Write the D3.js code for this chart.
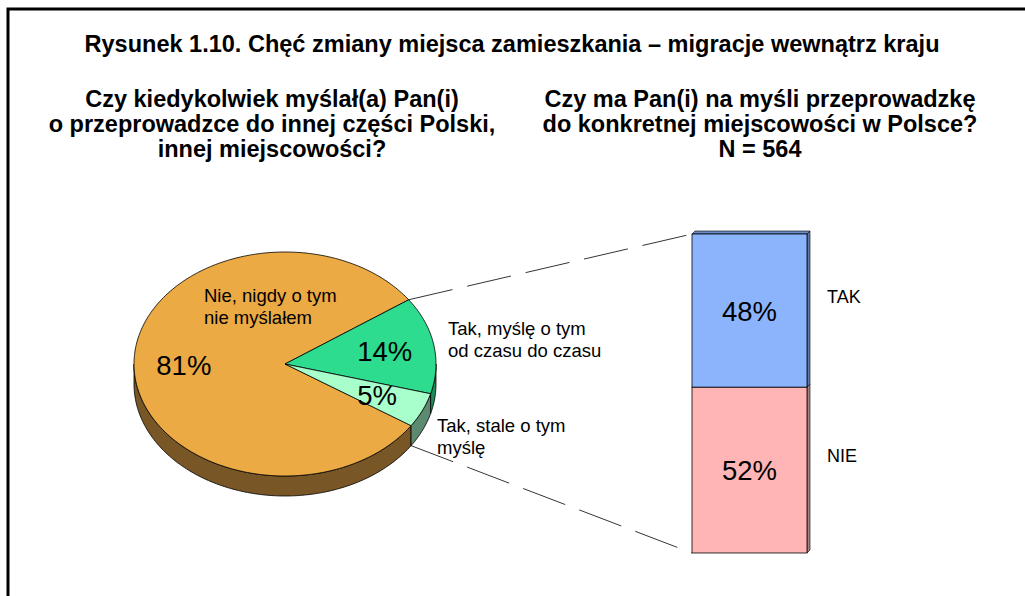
<!DOCTYPE html>
<html>
<head>
<meta charset="utf-8">
<script src="https://cdn.jsdelivr.net/npm/d3@7"></script>
<style>
  body { margin: 0; background: #fff; }
  svg { display: block; }
  text { font-family: "Liberation Sans", Arial, sans-serif; fill: #000; }
</style>
</head>
<body>
<svg id="chart" width="1025" height="596"></svg>
<script>
// ---- data ----
const title = "Rysunek 1.10. Chęć zmiany miejsca zamieszkania – migracje wewnątrz kraju";
const leftQuestion = ["Czy kiedykolwiek myślał(a) Pan(i)", "o przeprowadzce do innej części Polski,", "innej miejscowości?"];
const rightQuestion = ["Czy ma Pan(i) na myśli przeprowadzkę", "do konkretnej miejscowości w Polsce?", "N = 564"];

const pieCategories = [["Nie, nigdy o tym", "nie myślałem"], ["Tak, myślę o tym", "od czasu do czasu"], ["Tak, stale o tym", "myślę"]];
const pieValues = [81, 14, 5];

const barCategories = ["NIE", "TAK"];   // bottom to top
const barValues = [52, 48];

// ---- styles / layout ----
const pieTop = ["#ebaa44", "#2ddc8e", "#a8ffcc"];
const pieSide = ["#785626", "#1f8a5a", "#5c8a70"];
const barFill = ["#ffb5b5", "#8cb4fc"];
const barSideFill = ["#a88080", "#5a7aae"];
const catOffsets = [[-81, -62], [163, -29], [152, 68]];  // label position relative to pie centre

const svg = d3.select("#chart");

// frame
svg.append("path")
    .attr("d", "M8,600V9H1030")
    .attr("fill", "none")
    .attr("stroke", "#000")
    .attr("stroke-width", 3);

// titles
svg.append("text")
    .attr("x", 512).attr("y", 52)
    .attr("text-anchor", "middle")
    .style("font-family", "'Liberation Sans Narrow', 'Arial Narrow', 'Liberation Sans', sans-serif")
    .style("font-weight", "bold")
    .style("font-size", "23px")
    .attr("textLength", 855)
    .attr("lengthAdjust", "spacingAndGlyphs")
    .text(title);

function question(lines, cx) {
    const t = svg.append("text")
        .attr("text-anchor", "middle")
        .style("font-weight", "bold")
        .style("font-size", "23.5px");
    lines.forEach((l, i) => {
        t.append("tspan").attr("x", cx).attr("y", 107 + i * 25).text(l);
    });
}
question(leftQuestion, 272);
question(rightQuestion, 760);

// ---- 3D pie ----
const cx = 285, cy = 364, rx = 151, ry = 112, depth = 20;
const startAngle = 123.4 * Math.PI / 180;

const arcs = d3.pie().sort(null)
    .startAngle(startAngle)
    .endAngle(startAngle + 2 * Math.PI)(pieValues);

const pt = (a, f = 1, dy = 0) => [cx + rx * f * Math.sin(a), cy - ry * f * Math.cos(a) + dy];
const sample = (a0, a1, dy = 0) => {
    const n = Math.max(2, Math.ceil(Math.abs(a1 - a0) / 0.02));
    return d3.range(n + 1).map(i => pt(a0 + (a1 - a0) * i / n, 1, dy));
};
const line = d3.line();

// side walls (front half only)
const gSide = svg.append("g");
arcs.forEach((d, i) => {
    for (let k = 0; k < 2; k++) {
        const v0 = Math.PI / 2 + k * 2 * Math.PI, v1 = 3 * Math.PI / 2 + k * 2 * Math.PI;
        const s = Math.max(d.startAngle, v0), e = Math.min(d.endAngle, v1);
        if (e <= s) continue;
        const pts = sample(s, e).concat(sample(e, s, depth));
        gSide.append("path")
            .attr("d", line(pts) + "Z")
            .attr("fill", pieSide[i])
            .attr("stroke", "#000")
            .attr("stroke-width", 0.8)
            .attr("stroke-linejoin", "round");
    }
});

// top surfaces
svg.append("g").selectAll("path")
    .data(arcs)
    .join("path")
    .attr("d", d => line([[cx, cy]].concat(sample(d.startAngle, d.endAngle))) + "Z")
    .attr("fill", (d, i) => pieTop[i])
    .attr("stroke", "#000")
    .attr("stroke-width", 0.8)
    .attr("stroke-linejoin", "round");

// percent labels
svg.append("g").selectAll("text")
    .data(arcs)
    .join("text")
    .attr("x", d => pt((d.startAngle + d.endAngle) / 2, 0.67)[0])
    .attr("y", d => pt((d.startAngle + d.endAngle) / 2, 0.67)[1] + 10)
    .attr("text-anchor", "middle")
    .style("font-size", "27.5px")
    .text(d => d.value + "%");

// category labels
pieCategories.forEach((lines, i) => {
    const t = svg.append("text").style("font-size", "18.5px");
    lines.forEach((l, j) => {
        t.append("tspan")
            .attr("x", cx + catOffsets[i][0])
            .attr("y", cy + catOffsets[i][1] + j * 21.5)
            .text(l);
    });
});

// ---- stacked bar ----
const y = d3.scaleLinear().domain([0, 100]).range([553, 234]);
const x = d3.scaleBand().domain(["bar"]).range([692, 807]);
const bx0 = x("bar"), bx1 = bx0 + x.bandwidth(), off = 3;
const cum = d3.cumsum(barValues);
const segs = barValues.map((v, i) => ({ cat: barCategories[i], v, lo: cum[i] - v, hi: cum[i] }));

// leader lines
const g = arcs[1], lg = arcs[2];
const pA = pt(g.startAngle), pB = pt(lg.endAngle, 1, depth);
svg.append("g").selectAll("line")
    .data([[pA, [bx0, y(100)]], [pB, [bx0, y(0)]]])
    .join("line")
    .attr("x1", d => d[0][0]).attr("y1", d => d[0][1])
    .attr("x2", d => d[1][0]).attr("y2", d => d[1][1])
    .attr("stroke", "#000")
    .attr("stroke-width", 0.8)
    .attr("stroke-dasharray", "45,15");

const gBar = svg.append("g");
// side faces
gBar.selectAll(".side")
    .data(segs)
    .join("path")
    .attr("class", "side")
    .attr("d", d => `M${bx1},${y(d.lo)}L${bx1 + off},${y(d.lo) - off}L${bx1 + off},${y(d.hi) - off}L${bx1},${y(d.hi)}Z`)
    .attr("fill", (d, i) => barSideFill[i])
    .attr("stroke", "#000")
    .attr("stroke-width", 0.6);
// top face
gBar.append("path")
    .attr("d", `M${bx0},${y(100)}L${bx0 + off},${y(100) - off}L${bx1 + off},${y(100) - off}L${bx1},${y(100)}Z`)
    .attr("fill", "#6a8cc6")
    .attr("stroke", "#000")
    .attr("stroke-width", 0.6);
// front
gBar.selectAll(".front")
    .data(segs)
    .join("rect")
    .attr("class", "front")
    .attr("x", bx0)
    .attr("width", x.bandwidth())
    .attr("y", d => y(d.hi))
    .attr("height", d => y(d.lo) - y(d.hi))
    .attr("fill", (d, i) => barFill[i])
    .attr("stroke", "#000")
    .attr("stroke-width", 0.8);

gBar.selectAll(".val")
    .data(segs)
    .join("text")
    .attr("class", "val")
    .attr("x", (bx0 + bx1) / 2)
    .attr("y", d => y((d.lo + d.hi) / 2) + 10)
    .attr("text-anchor", "middle")
    .style("font-size", "27.5px")
    .text(d => d.v + "%");

gBar.selectAll(".cat")
    .data(segs)
    .join("text")
    .attr("class", "cat")
    .attr("x", bx1 + 20)
    .attr("y", d => y((d.lo + d.hi) / 2) - 8)
    .style("font-size", "18px")
    .text(d => d.cat);
</script>
</body>
</html>
